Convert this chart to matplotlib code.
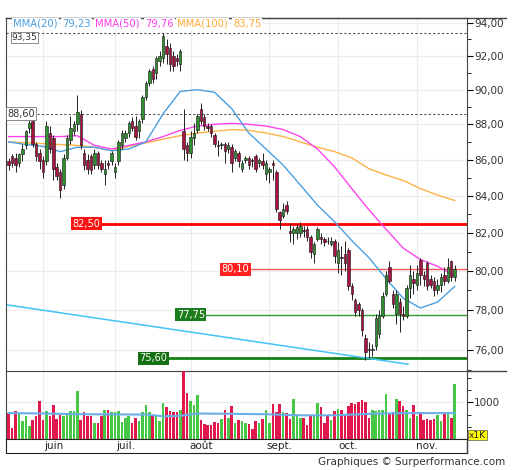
import numpy as np
import matplotlib.pyplot as plt
from matplotlib.ticker import FixedLocator, FuncFormatter, NullFormatter
from matplotlib.lines import Line2D

# daily candles, mid-May -> mid-Nov
opens = [85.9, 86.2, 86.1, 85.8, 86.3, 86.8, 87.8, 88.2, 86.9, 86.4,
         86.0, 85.9, 87.5, 87.2, 85.6, 85.3, 84.6, 86.1, 87.1, 87.6,
         88.0, 88.6, 86.4, 86.0, 86.2, 85.7, 86.4, 85.8, 85.2, 85.8,
         85.9, 85.3, 85.9, 86.8, 87.2, 87.5, 88.2, 87.9, 87.6, 88.3,
         89.6, 90.4, 91.2, 91.0, 91.7, 91.9, 92.6, 92.5, 92.0, 91.9,
         91.5, 87.6, 86.8, 86.4, 87.2, 87.7, 88.9, 88.4, 87.9, 87.9,
         87.4, 86.8, 86.8, 86.9, 86.6, 86.7, 86.1, 86.4, 85.5, 86.0,
         86.1, 86.0, 86.2, 85.8, 85.9, 85.2, 85.3, 85.8, 85.3, 83.1,
         82.9, 83.5, 82.1, 82.0, 82.0, 82.0, 82.15, 82.2, 81.8, 80.9,
         81.7, 81.8, 81.7, 81.6, 81.4, 81.6, 80.4, 80.75, 80.9, 81.1,
         79.2, 78.5, 78.3, 78.0, 76.6, 76.05, 76.0, 76.2, 76.8, 77.7,
         78.8, 80.2, 78.8, 77.8, 78.4, 77.8, 77.7, 79.1, 79.6, 79.3,
         80.6, 79.8, 80.4, 79.6, 79.5, 79.0, 79.3, 79.8, 79.5, 80.5,
         79.7]
highs = [86.1, 86.3, 86.4, 86.4, 86.9, 87.7, 88.4, 88.5, 87.0, 86.6,
         86.2, 88.2, 87.9, 87.4, 85.8, 85.5, 86.3, 87.4, 88.5, 88.2,
         89.7, 88.8, 86.6, 86.3, 86.3, 86.6, 86.5, 86.0, 86.0, 86.0,
         86.5, 85.8, 87.1, 87.7, 87.7, 88.2, 88.4, 88.5, 88.3, 89.7,
         90.5, 91.2, 91.4, 92.0, 92.3, 93.35, 93.0, 92.8, 92.3, 92.1,
         92.4, 88.9, 87.0, 87.6, 88.1, 88.6, 89.2, 88.6, 88.1, 88.0,
         87.5, 87.1, 87.0, 87.0, 87.0, 86.9, 86.6, 86.5, 86.0, 86.2,
         86.2, 86.1, 86.3, 86.1, 86.4, 86.0, 85.6, 86.0, 85.4, 83.2,
         83.6, 83.7, 82.55, 82.4, 82.5, 82.6, 82.4, 82.4, 81.9, 81.5,
         82.3, 82.0, 81.8, 81.8, 81.8, 81.7, 81.5, 81.3, 81.6, 81.2,
         79.4, 78.6, 78.4, 78.1, 76.8, 76.4, 76.3, 77.8, 78.0, 78.9,
         80.0, 80.5, 79.0, 79.0, 78.6, 78.2, 79.3, 80.3, 80.0, 80.3,
         80.7, 80.0, 80.5, 79.8, 79.7, 79.6, 79.9, 80.2, 80.7, 80.6,
         80.3]
lows = [85.4, 85.6, 85.3, 85.6, 85.9, 86.6, 87.5, 86.7, 85.9, 85.5,
        85.0, 85.7, 86.4, 84.9, 84.9, 83.9, 84.4, 86.0, 86.9, 87.4,
        87.6, 86.6, 85.4, 85.2, 85.2, 85.5, 85.5, 85.3, 84.6, 85.5,
        85.7, 85.0, 85.7, 86.6, 87.0, 87.3, 87.6, 87.1, 87.2, 88.1,
        89.4, 90.2, 90.4, 90.6, 91.4, 91.6, 91.5, 91.1, 91.1, 91.4,
        91.1, 86.0, 85.9, 86.1, 86.8, 87.5, 88.0, 87.7, 87.6, 87.3,
        86.7, 86.2, 86.6, 85.8, 86.4, 85.3, 85.9, 85.6, 85.3, 85.8,
        85.5, 85.6, 85.3, 85.6, 85.5, 84.9, 84.7, 84.9, 83.1, 82.2,
        82.8, 83.0, 81.5, 81.4, 81.7, 81.8, 81.8, 81.6, 80.7, 80.4,
        81.6, 81.4, 81.3, 81.4, 81.3, 80.4, 79.9, 79.8, 80.0, 79.0,
        78.5, 77.7, 77.7, 76.7, 75.5, 75.6, 75.7, 76.0, 76.6, 77.6,
        78.7, 79.4, 78.1, 77.3, 76.9, 77.5, 77.6, 78.6, 78.8, 79.0,
        79.3, 79.2, 79.0, 79.1, 78.7, 78.8, 78.9, 79.3, 79.4, 79.5,
        79.5]
closes = [85.7, 85.8, 85.7, 86.3, 86.6, 87.6, 88.1, 86.9, 86.2, 85.9,
          85.3, 87.9, 86.6, 85.5, 85.1, 84.3, 86.1, 87.2, 87.8, 88.0,
          88.7, 86.8, 85.7, 85.5, 85.4, 86.4, 85.7, 85.5, 85.5, 85.7,
          86.4, 85.6, 87.0, 87.5, 87.5, 88.1, 87.8, 87.3, 88.2, 89.6,
          90.4, 91.1, 90.6, 91.9, 92.0, 93.2, 92.1, 91.5, 91.4, 91.7,
          92.3, 86.6, 86.4, 87.3, 87.5, 88.5, 88.2, 87.9, 87.8, 87.5,
          86.9, 86.75, 86.9, 86.5, 86.8, 85.8, 86.5, 85.9, 85.8, 86.1,
          85.7, 85.9, 85.5, 86.0, 85.7, 85.8, 85.5, 85.7, 83.3, 82.7,
          83.3, 83.2, 82.0, 82.2, 82.3, 82.4, 82.1, 81.8, 81.0, 81.4,
          82.2, 81.7, 81.5, 81.55, 81.6, 80.8, 81.1, 80.7, 80.4, 79.2,
          78.8, 77.9, 78.0, 77.0, 75.9, 76.0, 76.05, 77.6, 77.7, 78.7,
          79.8, 79.5, 78.3, 78.8, 77.8, 77.7, 79.1, 79.8, 79.4, 79.9,
          79.8, 79.6, 79.2, 79.3, 79.0, 79.3, 79.7, 79.5, 80.2, 79.7,
          80.1]
volumes = [700, 291, 745, 700, 491, 609, 364, 518, 609, 1036,
           518, 745, 609, 927, 545, 655, 609, 655, 764, 745,
           1309, 518, 727, 627, 627, 445, 427, 627, 773, 773,
           727, 727, 745, 473, 564, 627, 445, 564, 500, 727,
           909, 727, 655, 609, 491, 973, 855, 745, 718, 727,
           791, 1850, 1245, 1018, 909, 1200, 518, 409, 382, 382,
           473, 427, 536, 791, 564, 882, 445, 518, 491, 445,
           409, 264, 491, 445, 536, 773, 427, 955, 727, 955,
           727, 700, 536, 1082, 682, 564, 564, 382, 627, 627,
           973, 855, 427, 627, 518, 745, 809, 773, 682, 900,
           973, 955, 991, 1045, 991, 564, 791, 764, 773, 791,
           1218, 700, 718, 1082, 1018, 900, 791, 564, 927, 627,
           727, 518, 536, 518, 536, 655, 491, 700, 682, 564,
           1500]

# moving averages read every 5 sessions
ma_days = list(range(0, 131, 5))
mma20 = [87.0, 86.85, 86.75, 86.45, 86.7, 86.7, 86.5, 86.6, 87.0, 88.6,
         89.9, 90.0, 89.85, 88.9, 87.5, 86.6, 85.7, 84.6, 83.5, 82.6,
         81.6, 80.7, 79.6, 78.6, 78.1, 78.4, 79.2]
mma50 = [87.3, 87.3, 87.3, 87.3, 87.35, 86.8, 86.6, 86.8, 87.0, 87.3,
         87.65, 87.9, 88.0, 88.05, 88.0, 87.9, 87.7, 87.3, 86.6, 85.6,
         84.4, 83.25, 82.2, 81.2, 80.6, 80.25, 79.76]
mma100 = [87.0, 86.95, 86.9, 86.85, 86.8, 86.7, 86.5, 86.75, 86.95, 87.15,
          87.35, 87.5, 87.6, 87.7, 87.65, 87.5, 87.3, 87.0, 86.7, 86.45,
          86.1, 85.5, 85.15, 84.85, 84.4, 84.05, 83.75]

vol_ma_days = [0, 10, 20, 30, 40, 45, 50, 55, 65, 75, 85, 95, 105, 115, 125, 130]
vol_ma = [700, 690, 670, 665, 660, 615, 625, 690, 680, 670, 640, 640, 680, 700, 700, 700]

month_starts = [10, 31, 53, 76, 96, 119]
month_names = ['juin', 'juil.', 'août', 'sept.', 'oct.', 'nov.']

levels = [82.50, 80.10, 77.75, 75.60]
level_days = [22.7, 66.1, 53.1, 42.1]
level_colors = ['#ff0000', '#ff5a5a', '#2f9a2f', '#168016']
level_boxes = ['#ff1010', '#ff2020', '#1d7d1d', '#137013']
level_lw = [2.0, 1.0, 1.0, 2.0]

dashed_levels = [93.35, 88.60]
trend_days = [-0.5, 116.4]
trend_vals = [78.26, 75.3]

legend_items = [('MMA(20)', '79,23', '#4a9fe0', 13, 62),
                ('MMA(50)', '79,76', '#ff3cf0', 95, 145),
                ('MMA(100)', '83,75', '#ffaa33', 177, 233)]

W, H = 512, 470


def rect(x0, y0, x1, y1):
    return [x0 / W, 1 - y1 / H, (x1 - x0) / W, (y1 - y0) / H]


def comma(v, pos=None):
    return f'{v:.2f}'.replace('.', ',')


fig = plt.figure(figsize=(W / 100, H / 100), dpi=100)
ax = fig.add_axes(rect(6, 18, 467, 371))
axv = fig.add_axes(rect(6, 371, 467, 439), sharex=ax)
axm = fig.add_axes(rect(6, 439, 467, 453), sharex=ax)

days = np.arange(len(closes))
o = np.array(opens)
c = np.array(closes)
up = c >= o

# price panel
ax.set_yscale('log')
ax.set_xlim(-0.79, 133.6)
ax.set_ylim(74.97, 94.29)
ax.yaxis.tick_right()
ax.yaxis.set_major_locator(FixedLocator(list(range(76, 95, 2))))
ax.yaxis.set_minor_locator(FixedLocator(list(range(75, 95, 2))))
ax.yaxis.set_major_formatter(FuncFormatter(comma))
ax.yaxis.set_minor_formatter(NullFormatter())
ax.tick_params(axis='y', which='major', length=4, labelsize=7.5, labelcolor='#333333', pad=1)
ax.tick_params(axis='y', which='minor', length=3)
ax.set_xticks(month_starts)
ax.tick_params(axis='x', length=0, labelbottom=False)
ax.grid(True, which='major', color='#ececec', lw=0.8)
ax.set_axisbelow(True)

for lvl in dashed_levels:
    ax.axhline(lvl, color='#555555', lw=0.8, ls=(0, (2, 2)), zorder=2)
ax.text(0.012, 93.1, '93,35', transform=ax.get_yaxis_transform(), fontsize=6.5,
        ha='left', va='center', color='#333333', zorder=6,
        bbox=dict(boxstyle='square,pad=0.1', fc='white', ec='#777777', lw=0.6))
ax.text(0.003, 88.60, '88,60', transform=ax.get_yaxis_transform(), fontsize=7,
        ha='left', va='center', color='#333333', zorder=6,
        bbox=dict(boxstyle='square,pad=0.15', fc='white', ec='#777777', lw=0.6))

for lvl, d, lc, bc, lw in zip(levels, level_days, level_colors, level_boxes, level_lw):
    ax.hlines(lvl, d, 133.6, color=lc, lw=lw, zorder=2)
    ax.text(d, lvl, comma(lvl), fontsize=7, color='white', ha='center', va='center', zorder=6,
            bbox=dict(boxstyle='square,pad=0.15', fc=bc, ec='none'))

ax.plot(trend_days, trend_vals, color='#40c4f6', lw=1.1, zorder=2)

ax.plot(ma_days, mma100, color='#ffb347', lw=1, zorder=2.5)
ax.plot(ma_days, mma50, color='#ff44ee', lw=1, zorder=2.5)
ax.plot(ma_days, mma20, color='#4a9fe0', lw=1, zorder=2.5)

ax.vlines(days, lows, highs, color='#222222', lw=0.7, zorder=3)
body_bottom = np.minimum(o, c)
body_h = np.maximum(np.abs(c - o), 0.05)
ax.bar(days, body_h, bottom=body_bottom, width=0.72,
       color=np.where(up, '#2e8f2e', '#a8123e'), edgecolor='#111111', lw=0.4, zorder=4)

for sp in ax.spines.values():
    sp.set_color('#444444')
ax.spines['bottom'].set_visible(False)

for name, val, col, xn, xv in legend_items:
    fig.text(xn / W, 1 - 24 / H, name, fontsize=7.2, color=col, ha='left', va='center',
             bbox=dict(boxstyle='square,pad=0.1', fc='white', ec='none'))
    fig.text(xv / W, 1 - 24 / H, val, fontsize=7.2, color=col, ha='left', va='center',
             bbox=dict(boxstyle='square,pad=0.1', fc='white', ec='none'))

# volume panel
axv.bar(days, volumes, width=0.75, color=np.where(up, '#46c846', '#e0184c'), zorder=3)
axv.plot(vol_ma_days, vol_ma, color='#6aaee8', lw=1.5, zorder=4)
axv.set_ylim(0, 1838)
axv.yaxis.tick_right()
axv.yaxis.set_major_locator(FixedLocator([1000]))
axv.yaxis.set_minor_locator(FixedLocator([325, 660, 1330, 1650]))
axv.yaxis.set_minor_formatter(NullFormatter())
axv.tick_params(axis='y', which='major', length=4, labelsize=7.5, labelcolor='#333333', pad=1)
axv.tick_params(axis='y', which='minor', length=3)
axv.tick_params(axis='x', length=0, labelbottom=False)
axv.grid(True, which='major', color='#ececec', lw=0.8)
axv.set_axisbelow(True)
for sp in axv.spines.values():
    sp.set_color('#444444')

# month row
axm.set_yticks([])
axm.tick_params(axis='x', length=0, labelbottom=False)
for d, name in zip(month_starts, month_names):
    axm.text(d + 3, 0.5, name, fontsize=7.5, ha='center', va='center', color='#222222')
for sp in axm.spines.values():
    sp.set_color('#222222')

fig.add_artist(Line2D([6 / W, 506 / W], [1 - 18 / H] * 2, color='#444444', lw=1))
fig.add_artist(Line2D([467 / W, 506 / W], [1 - 371 / H] * 2, color='#444444', lw=1))
fig.add_artist(Line2D([467 / W, 467 / W], [1 - 453 / H, 1 - 439 / H], color='#444444', lw=1))

fig.text(469 / W, 1 - 435 / H, 'x1K', fontsize=6.5, ha='left', va='center', color='#222222',
         bbox=dict(boxstyle='square,pad=0.1', fc='#ffff00', ec='#555555', lw=0.5))
fig.text(505 / W, 1 - 462 / H, 'Graphiques © Surperformance.com', fontsize=7.5,
         ha='right', va='center', color='#333333')

fig.savefig('out.png', dpi=100)
